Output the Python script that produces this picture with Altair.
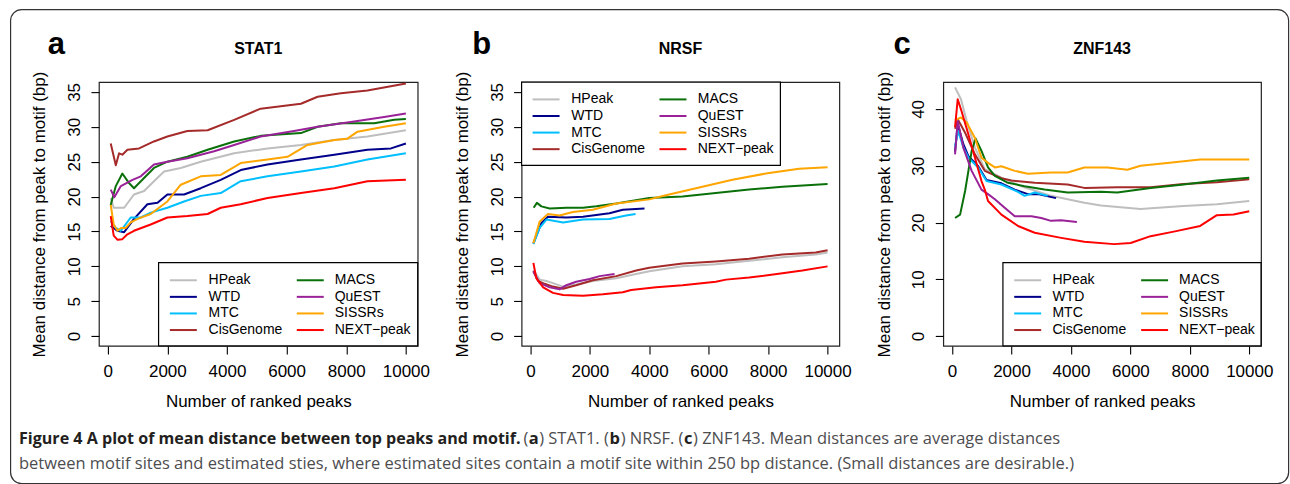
import altair as alt
import pandas as pd

METHODS = ["HPeak", "WTD", "MTC", "CisGenome", "MACS", "QuEST", "SISSRs", "NEXT-peak"]
COLORS = ["#BEBEBE", "#00008B", "#00BFFF", "#A52A2A", "#0A700A", "#9A2298", "#FFA500", "#FF0000"]

X_TICKS = [0, 2000, 4000, 6000, 8000, 10000]
AB_Y_TICKS = [0, 5, 10, 15, 20, 25, 30, 35]
C_Y_TICKS = [0, 10, 20, 30, 40]

# ---- panel a: STAT1 ----
STAT1 = {
    "HPeak": ([100, 200, 550, 880, 1220, 1550, 1890, 2450, 3120, 4240, 5360, 6480, 7600, 8710, 10000],
              [19.8, 18.4, 18.4, 20.3, 20.8, 22.2, 23.6, 24.1, 25.0, 26.2, 26.9, 27.4, 28.1, 28.6, 29.5]),
    "WTD": ([100, 320, 550, 880, 1330, 1670, 2000, 2560, 3120, 3790, 4460, 5360, 6480, 7600, 8710, 9500, 10000],
            [15.8, 15.1, 14.9, 16.8, 18.9, 19.1, 20.3, 20.3, 21.2, 22.4, 23.8, 24.6, 25.3, 26.0, 26.7, 26.9, 27.6]),
    "MTC": ([100, 270, 440, 770, 1110, 1440, 2000, 2560, 3120, 3790, 4460, 5360, 6480, 7600, 8710, 10000],
            [16.5, 15.5, 15.1, 17.0, 17.0, 17.7, 18.4, 19.3, 20.1, 20.5, 22.2, 22.9, 23.6, 24.3, 25.3, 26.2]),
    "CisGenome": ([100, 270, 380, 490, 660, 1050, 1550, 2000, 2670, 3350, 4240, 5130, 6480, 7040, 7820, 8710, 10000],
                  [27.6, 24.5, 26.2, 26.0, 26.7, 26.9, 27.9, 28.6, 29.4, 29.5, 31.0, 32.6, 33.3, 34.3, 34.8, 35.2, 36.2]),
    "MACS": ([100, 270, 490, 720, 880, 1110, 1550, 2000, 2670, 3350, 4240, 5130, 6480, 7040, 7820, 8940, 9610, 10000],
             [18.8, 21.5, 23.3, 21.9, 21.2, 22.2, 24.1, 25.0, 25.7, 26.7, 27.9, 28.7, 29.1, 30.0, 30.5, 30.5, 31.0, 31.1]),
    "QuEST": ([100, 220, 440, 830, 1110, 1550, 2000, 2670, 3570, 4240, 5130, 6250, 7040, 8150, 9270, 10000],
              [21.0, 19.9, 21.5, 22.4, 22.9, 24.6, 25.0, 25.5, 26.5, 27.4, 28.6, 29.4, 30.0, 30.7, 31.4, 31.9]),
    "SISSRs": ([100, 200, 330, 440, 600, 770, 1000, 1440, 2000, 2450, 3120, 3790, 4460, 5360, 6030, 6700, 7600, 8040, 8380, 9270, 10000],
               [18.8, 16.0, 15.1, 15.5, 15.5, 16.3, 16.8, 17.5, 19.3, 21.7, 22.9, 23.1, 24.8, 25.3, 25.7, 27.4, 28.1, 28.3, 29.3, 30.0, 30.5]),
    "NEXT-peak": ([100, 200, 330, 490, 660, 880, 1440, 2000, 2670, 3350, 3790, 4460, 5360, 6480, 7600, 8710, 10000],
                  [17.2, 14.4, 13.8, 13.9, 14.6, 15.1, 16.0, 17.0, 17.2, 17.5, 18.4, 18.9, 19.8, 20.5, 21.2, 22.2, 22.4]),
}

# ---- panel b: NRSF ----
NRSF = {
    "HPeak": ([100, 310, 540, 760, 1100, 1540, 2100, 2890, 3560, 4000, 5120, 6240, 7360, 8480, 9600, 10000],
              [9.5, 8.1, 7.9, 7.6, 7.1, 7.4, 7.9, 8.3, 8.9, 9.3, 10.0, 10.3, 10.8, 11.3, 11.7, 12.0]),
    "WTD": ([100, 370, 590, 1210, 1770, 2660, 3110, 3840],
            [13.3, 16.2, 17.1, 17.0, 17.1, 17.6, 18.1, 18.3]),
    "MTC": ([100, 310, 540, 1100, 1770, 2660, 3220, 3540],
            [13.2, 15.5, 16.7, 16.3, 16.7, 16.8, 17.3, 17.5]),
    "CisGenome": ([100, 260, 480, 760, 1100, 1540, 2100, 2890, 3560, 4000, 5120, 6240, 7360, 8480, 9600, 10000],
                  [9.3, 7.9, 7.5, 7.1, 6.8, 7.3, 8.0, 8.6, 9.4, 9.8, 10.4, 10.7, 11.1, 11.7, 12.0, 12.3]),
    "MACS": ([110, 220, 370, 650, 1210, 1770, 2220, 2890, 4000, 5120, 6240, 7360, 8480, 10000],
             [18.4, 19.1, 18.6, 18.3, 18.4, 18.4, 18.6, 19.0, 19.8, 20.0, 20.5, 21.0, 21.4, 21.8]),
    "QuEST": ([100, 310, 650, 980, 1210, 1540, 1990, 2330, 2830],
              [9.3, 7.6, 7.0, 6.7, 7.3, 7.8, 8.2, 8.6, 8.9]),
    "SISSRs": ([100, 310, 590, 980, 1430, 2100, 2890, 4000, 4560, 5680, 6800, 7920, 9040, 10000],
               [13.3, 16.4, 17.5, 17.3, 17.8, 18.1, 19.0, 19.6, 20.2, 21.3, 22.4, 23.3, 24.0, 24.2]),
    "NEXT-peak": ([100, 200, 430, 760, 1100, 1770, 2440, 3110, 3390, 4230, 5120, 6240, 6580, 7360, 8480, 9150, 10000],
                  [10.5, 8.3, 7.0, 6.2, 5.9, 5.8, 6.0, 6.3, 6.6, 7.0, 7.3, 7.8, 8.1, 8.4, 9.0, 9.4, 10.0]),
}

# ---- panel c: ZNF143 ----
ZNF143 = {
    "HPeak": ([100, 300, 490, 770, 1100, 1660, 2330, 3330, 4450, 5010, 6340, 7790, 8910, 10000],
              [43.8, 41.7, 37.9, 33.2, 29.4, 27.9, 26.4, 24.7, 23.5, 23.0, 22.4, 22.9, 23.2, 23.8]),
    "WTD": ([100, 190, 380, 550, 880, 1160, 1660, 2110, 2550, 2890, 3500],
            [32.5, 37.3, 33.8, 31.7, 29.9, 27.5, 26.9, 25.8, 25.0, 25.0, 24.3]),
    "MTC": ([100, 210, 380, 550, 880, 1160, 1660, 2220, 2440, 2780, 3220],
            [33.5, 36.1, 33.2, 31.4, 29.7, 27.3, 26.7, 25.4, 24.7, 25.3, 24.7]),
    "CisGenome": ([100, 190, 440, 770, 1100, 1660, 2000, 2780, 3890, 4450, 5560, 6680, 7790, 8910, 10000],
                  [36.5, 38.2, 35.8, 32.0, 29.1, 27.8, 27.4, 27.0, 26.7, 26.1, 26.2, 26.2, 26.8, 27.1, 27.6]),
    "MACS": ([100, 270, 440, 550, 660, 790, 990, 1210, 1440, 1880, 2440, 3110, 3890, 5010, 5560, 6680, 7790, 8910, 10000],
             [20.8, 21.4, 25.6, 29.1, 32.6, 34.8, 32.6, 29.7, 28.2, 27.0, 26.4, 25.8, 25.3, 25.4, 25.3, 26.1, 26.7, 27.4, 27.9]),
    "QuEST": ([100, 190, 380, 660, 990, 1210, 1440, 1770, 2110, 2670, 3000, 3330, 3670, 4200],
              [32.0, 37.9, 33.2, 29.1, 25.8, 25.0, 24.1, 22.6, 21.1, 21.1, 20.8, 20.3, 20.4, 20.1]),
    "SISSRs": ([100, 300, 490, 770, 990, 1210, 1440, 1660, 2110, 2550, 3330, 3890, 4450, 5230, 5900, 6340, 7240, 8350, 10000],
               [38.0, 38.5, 37.6, 34.9, 31.4, 30.5, 29.7, 29.9, 29.1, 28.6, 28.8, 28.8, 29.7, 29.7, 29.3, 30.0, 30.5, 31.1, 31.1]),
    "NEXT-peak": ([100, 190, 320, 550, 770, 990, 1100, 1210, 1660, 2220, 2780, 3670, 4450, 5450, 6010, 6680, 7460, 8350, 8910, 9470, 10000],
                  [36.8, 41.7, 39.6, 35.5, 31.4, 27.3, 25.8, 23.8, 21.4, 19.4, 18.2, 17.3, 16.6, 16.2, 16.4, 17.6, 18.4, 19.4, 21.3, 21.4, 22.0]),
}

CAPTION_BOLD = "Figure 4 A plot of mean distance between top peaks and motif."
CAPTION_LINE2 = ("between motif sites and estimated sties, where estimated sites contain a motif site "
                 "within 250 bp distance. (Small distances are desirable.)")
# (text, bold?, absolute x) for line 1 after the bold lead
CAPTION_PARTS = [("(", False, 523.0), ("a", True, 528.2), (") STAT1. (", False, 538.6),
                 ("b", True, 609.0), (") NRSF. (", False, 620.2), ("c", True, 683.6),
                 (") ZNF143. Mean distances are average distances", False, 692.6)]

FONT = "Liberation Sans, Arial, Helvetica, sans-serif"
CAP_FONT = "Open Sans, Noto Sans, sans-serif"
XDOM = [-296, 10396]
H = 264
ONE = pd.DataFrame({"k": [0]})


def series_df(d):
    rows = []
    for m, (xs, ys) in d.items():
        for i, (x, y) in enumerate(zip(xs, ys)):
            rows.append({"method": m, "x": x, "y": y, "i": i})
    return pd.DataFrame(rows)


def vtext(txt, x, y, size, weight="normal", align="left", baseline="alphabetic",
          color="black", font=FONT):
    return alt.Chart(ONE).mark_text(text=txt, align=align, baseline=baseline, fontSize=size,
                                    fontWeight=weight, color=color, font=font).encode(
        x=alt.value(x), y=alt.value(y))


def make_panel(data, ydom, yvals, w, title, letter, letter_x, leg, extra=None):
    df = series_df(data)
    xaxis = alt.Axis(values=X_TICKS, format="d", title="Number of ranked peaks",
                     titleX=w / 2, titleY=61, titleAlign="center", titleBaseline="alphabetic",
                     labelBaseline="alphabetic", labelPadding=23, tickSize=8, domain=False,
                     grid=False, labelFontSize=17, titleFontSize=17, labelFont=FONT,
                     titleFont=FONT, titleFontWeight="normal", labelColor="black",
                     titleColor="black", tickColor="black", tickWidth=1.1,
                     labelFlush=False, labelOverlap=False)
    yaxis = alt.Axis(values=yvals, title="Mean distance from peak to motif (bp)",
                     titleX=-54, titleY=H / 2, titleAlign="center", titleBaseline="alphabetic",
                     titleAngle=270, labelAngle=270, labelAlign="center",
                     labelBaseline="alphabetic", labelPadding=11.5, tickSize=8, domain=False,
                     grid=False, labelFontSize=17, titleFontSize=17, labelFont=FONT,
                     titleFont=FONT, titleFontWeight="normal", labelColor="black",
                     titleColor="black", tickColor="black", tickWidth=1.1,
                     labelFlush=False, labelOverlap=False)
    base = alt.Chart(df).encode(
        x=alt.X("x:Q", scale=alt.Scale(domain=XDOM, nice=False, zero=False), axis=xaxis),
        y=alt.Y("y:Q", scale=alt.Scale(domain=ydom, nice=False, zero=False), axis=yaxis),
        order="i:Q",
    )
    layers = list(extra or [])
    for m, c in zip(METHODS, COLORS):
        if m in data:
            layers.append(base.transform_filter(alt.datum.method == m)
                          .mark_line(color=c, strokeWidth=2, clip=True, strokeJoin="round"))
    # legend box (R style, two columns)
    (bx0, by0, bx1, by1), (l1, t1, l2, t2), rows = leg
    layers.append(alt.Chart(ONE).mark_rect(fill="white", stroke="black", strokeWidth=1.2).encode(
        x=alt.value(bx0), x2=alt.value(bx1), y=alt.value(by0), y2=alt.value(by1)))
    for k, (m, c) in enumerate(zip(METHODS, COLORS)):
        col, row = divmod(k, 4)
        lx, tx = (l1, t1) if col == 0 else (l2, t2)
        yy = rows[row]
        layers.append(alt.Chart(ONE).mark_rule(color=c, strokeWidth=2).encode(
            x=alt.value(lx), x2=alt.value(lx + 27), y=alt.value(yy)))
        layers.append(vtext(m.replace("-", "\u2212"), tx, yy, 14, baseline="middle"))
    layers.append(vtext(title, w / 2, -28, 16, weight="bold", align="center"))
    layers.append(vtext(letter, letter_x, -28.5, 31, weight="bold"))
    return alt.layer(*layers).properties(width=w, height=H)


# decorations for panel a: frame and caption (positions relative to panel a plot origin 98,81)
OX, OY = 98, 81
frame = alt.Chart(ONE).mark_rect(fill="white", fillOpacity=0, stroke="#333333", strokeWidth=1.2,
                                 cornerRadius=11).encode(
    x=alt.value(9.6 - OX), x2=alt.value(1288.6 - OX), y=alt.value(8.4 - OY), y2=alt.value(482.8 - OY))
caption = [vtext(CAPTION_BOLD, 18 - OX, 443 - OY, 16.1, weight="bold", color="#231F20", font=CAP_FONT)]
for txt, bold, px in CAPTION_PARTS:
    caption.append(vtext(txt, px - OX, 443 - OY, 16.5, weight="bold" if bold else "normal",
                         color="#231F20" if bold else "#4D4D4F", font=CAP_FONT))
caption.append(vtext(CAPTION_LINE2, 18 - OX, 468 - OY, 16.5, color="#4D4D4F", font=CAP_FONT))

ROWS_LOW = [198.3, 214.9, 231.5, 248.1]
LEG_LOW = ((59.7, 180.7, 319, 264), (71, 109.7, 198, 236), ROWS_LOW)
LEG_B = ((0, 0, 259, 83.3), (11, 49.7, 138, 176.3), [17.3, 33.9, 50.5, 67.1])
LEG_C = ((59.7, 180.7, 318, 264), (71, 109.3, 198, 236), ROWS_LOW)

pa = make_panel(STAT1, [-1.4, 36.4], AB_Y_TICKS, 319, "STAT1", "a", -51.3, LEG_LOW,
                extra=[frame] + caption)
pb = make_panel(NRSF, [-1.4, 36.4], AB_Y_TICKS, 318, "NRSF", "b", -49.3, LEG_B)
pc = make_panel(ZNF143, [-1.72, 44.72], C_Y_TICKS, 318, "ZNF143", "c", -49.7, LEG_C)

chart = alt.hconcat(pa, pb, pc, spacing=104, bounds="flush").properties(
    padding={"left": 9, "top": 8, "right": 0, "bottom": 0}
).configure_view(stroke="#222222", strokeWidth=1.2)

chart.save("out.html", embed_options={"renderer": "svg", "actions": False})
